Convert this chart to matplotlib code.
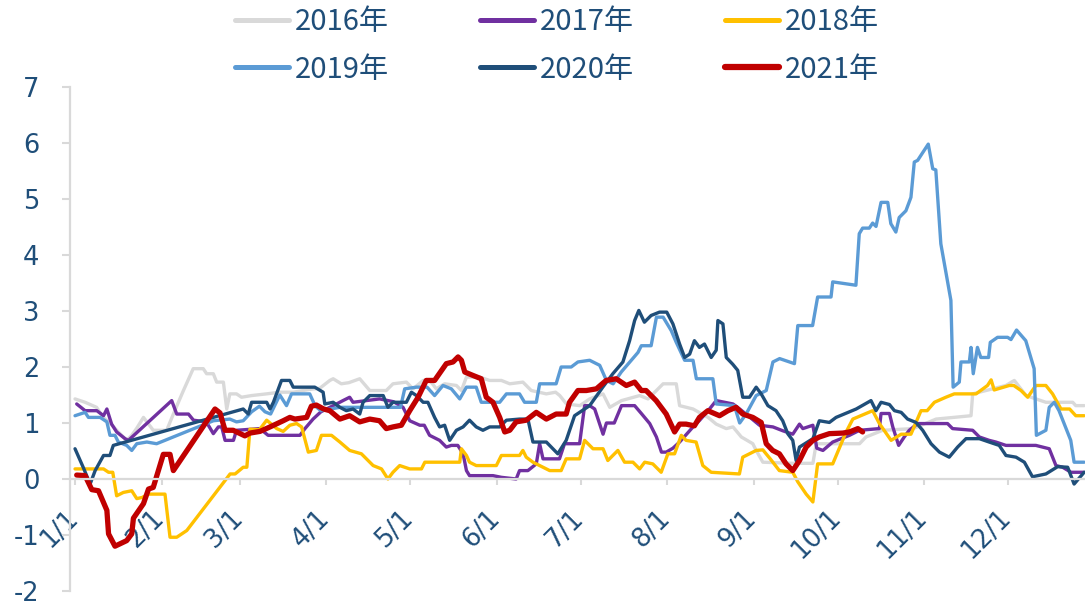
import matplotlib
matplotlib.use('Agg')
import matplotlib.pyplot as plt
import matplotlib.transforms as mtransforms

plt.rcParams['font.family'] = ['DejaVu Sans', 'Noto Sans CJK SC']
plt.rcParams['axes.unicode_minus'] = False

# x 轴为当年第几天 (1/1 = 0)
month_days = [0, 31, 59, 90, 120, 151, 181, 212, 243, 273, 304, 334]
month_labels = ['1/1', '2/1', '3/1', '4/1', '5/1', '6/1', '7/1', '8/1', '9/1', '10/1', '11/1', '12/1']

days_2016 = [0, 3.6, 7.7, 10.1, 12.5, 15.5, 18.5, 20.3, 22, 24.5,
             28, 32.8, 35.2, 38.8, 42.3, 45.9, 47.1, 49.5, 50.7, 53.1,
             54.3, 55.4, 57.8, 59.6, 63.2, 68.5, 73.3, 78.1, 84, 87.6,
             91.2, 92.4, 95.3, 98, 101.9, 105.5, 111.4, 113.8, 118.6, 121,
             124.6, 127, 129.3, 132.3, 136.5, 138.3, 140.1, 144.8, 148.4, 152.6,
             155.6, 160.3, 163.3, 168.7, 172, 173.5, 175.9, 180.7, 184.2, 189,
             191.4, 195.6, 202.1, 205.1, 209.3, 210.5, 215.2, 216.4, 221.2, 226.6,
             229.5, 233.1, 235.5, 238.5, 242.6, 243.8, 246.2, 256.9, 264.1, 265.3,
             280.8, 283.1, 289.1, 300, 308.2, 320.7, 321.3, 333.2, 336.2, 340.4,
             347.5, 357.1, 358.2, 361.2]
vals_2016 = [1.43, 1.37, 1.28, 1.1, 1.0, 0.84, 0.69, 0.78, 0.9, 1.1,
             0.87, 0.87, 1.16, 1.58, 1.97, 1.97, 1.88, 1.88, 1.73, 1.73,
             1.25, 1.52, 1.52, 1.46, 1.49, 1.52, 1.55, 1.55, 1.6, 1.62,
             1.76, 1.79, 1.7, 1.72, 1.79, 1.58, 1.58, 1.7, 1.73, 1.61,
             1.76, 1.76, 1.61, 1.7, 1.67, 1.58, 1.82, 1.82, 1.76, 1.76,
             1.7, 1.73, 1.58, 1.52, 1.55, 1.49, 1.34, 1.31, 1.43, 1.52,
             1.28, 1.4, 1.49, 1.43, 1.64, 1.7, 1.7, 1.31, 1.25, 1.1,
             0.98, 0.9, 0.93, 0.75, 0.63, 0.51, 0.3, 0.28, 0.28, 0.63,
             0.63, 0.75, 0.87, 0.9, 1.07, 1.13, 1.52, 1.67, 1.76, 1.49,
             1.37, 1.37, 1.31, 1.31]

days_2017 = [0.6, 3.6, 7.8, 10.2, 11.4, 13.1, 14.9, 17.9, 19.1, 34.6,
             36.4, 40.6, 42.4, 47, 49.5, 51.3, 52.5, 53.7, 56.7, 57.8,
             66.2, 69.1, 80.5, 82.3, 85.2, 88, 93.6, 95.9, 98.3, 99.5,
             109, 114, 117.4, 119.8, 123.4, 125, 126.9, 130.5, 132.9, 134.7,
             137, 138.9, 140.1, 141.2, 149.6, 152.6, 157.9, 159.1, 162.1, 165.1,
             166.3, 167.5, 173.4, 175.2, 180.6, 182.4, 184.2, 186, 189, 190.2,
             193, 195.6, 200.3, 202.7, 205.7, 208.1, 209.9, 211.6, 214, 216.4,
             221.2, 223.6, 227.1, 229.5, 235.5, 237.9, 242.1, 245, 249.8, 253.4,
             256.9, 259.3, 260.5, 264.1, 265.5, 267.7, 271.2, 277.2, 280.8, 287.9,
             288.5, 291.5, 292.7, 294.8, 296.8, 298.6, 301.6, 312.3, 314.1, 321.3,
             323.7, 327.2, 329.6, 333.2, 343.9, 348.7, 351.1, 353.5, 356.5, 361.2]
vals_2017 = [1.34, 1.22, 1.22, 1.13, 1.25, 0.98, 0.84, 0.72, 0.69, 1.4,
             1.16, 1.16, 1.05, 1.02, 0.81, 0.93, 0.93, 0.69, 0.69, 0.87,
             0.9, 0.78, 0.78, 0.9, 1.07, 1.2, 1.34, 1.4, 1.46, 1.37,
             1.43, 1.38, 1.28, 1.04, 0.96, 0.96, 0.78, 0.69, 0.57, 0.6,
             0.6, 0.45, 0.15, 0.06, 0.06, 0.03, 0.0, 0.15, 0.15, 0.27,
             0.63, 0.36, 0.36, 0.63, 0.63, 1.31, 1.31, 1.25, 0.8, 1.0,
             1.0, 1.31, 1.31, 1.17, 0.99, 0.75, 0.48, 0.48, 0.55, 0.66,
             0.93, 1.05, 1.25, 1.4, 1.34, 1.25, 1.08, 0.96, 0.93, 0.86,
             0.8, 0.98, 0.9, 0.96, 0.55, 0.51, 0.66, 0.78, 0.87, 0.9,
             1.17, 1.17, 0.93, 0.6, 0.75, 0.87, 0.99, 0.99, 0.9, 0.87,
             0.75, 0.69, 0.66, 0.6, 0.6, 0.54, 0.24, 0.21, 0.12, 0.12]

days_2018 = [0, 10.2, 12, 13.5, 14.9, 17.3, 20.3, 22.1, 24, 26.3,
             32.2, 34, 36.4, 40, 55.5, 57.3, 60.2, 61.5, 62.6, 66,
             68.6, 72.2, 74.5, 76.9, 79.3, 81.1, 83.5, 86.4, 88.2, 91.8,
             94.8, 98.3, 102.5, 104.9, 106.7, 109.7, 112, 113.8, 116.2, 119.8,
             124, 125.2, 137.7, 138.3, 140.1, 141.2, 143.6, 150.8, 152.6, 159.1,
             160.3, 161.5, 163.9, 169.9, 174, 175.8, 180.6, 182.4, 185.4, 189,
             190.7, 194.3, 196.7, 199.7, 202.1, 203.9, 206.8, 209.8, 212.2, 214.6,
             217, 218.7, 222.3, 224.7, 227.7, 237.8, 239, 243.8, 246.2, 249,
             252.1, 256.9, 258.7, 261.7, 264.1, 265.8, 271.2, 276, 278.4, 285.5,
             287.9, 292.1, 295.7, 299.2, 302.8, 305, 307.6, 311.7, 314.7, 322.5,
             326.6, 327.9, 329, 334.4, 336, 338.6, 341, 343.9, 347.5, 349.9,
             352.9, 356, 358.2, 361.2]
vals_2018 = [0.18, 0.18, 0.12, 0.12, -0.3, -0.24, -0.21, -0.35, -0.33, -0.27,
             -0.27, -1.04, -1.04, -0.92, 0.09, 0.09, 0.21, 0.21, 0.89, 0.88,
             1.05, 0.9, 0.85, 0.96, 0.99, 0.93, 0.48, 0.51, 0.78, 0.78,
             0.66, 0.51, 0.45, 0.33, 0.24, 0.18, 0.0, 0.12, 0.24, 0.18,
             0.18, 0.3, 0.3, 0.54, 0.42, 0.3, 0.24, 0.24, 0.42, 0.42,
             0.51, 0.39, 0.3, 0.15, 0.15, 0.36, 0.36, 0.69, 0.54, 0.54,
             0.33, 0.51, 0.3, 0.3, 0.18, 0.3, 0.27, 0.12, 0.45, 0.45,
             0.78, 0.69, 0.66, 0.24, 0.12, 0.09, 0.39, 0.51, 0.52, 0.35,
             0.15, 0.12, -0.05, -0.27, -0.41, 0.27, 0.27, 0.84, 1.07, 1.22,
             0.99, 0.69, 0.8, 0.8, 1.22, 1.22, 1.37, 1.46, 1.52, 1.52,
             1.67, 1.77, 1.59, 1.67, 1.67, 1.58, 1.46, 1.67, 1.67, 1.52,
             1.25, 1.25, 1.13, 1.13]

days_2019 = [0, 3.6, 4.8, 9, 11.4, 12.5, 14.3, 15.5, 18.5, 20.3,
             22.1, 25.7, 29.2, 49.5, 55.4, 57.8, 60.2, 63.2, 66, 68,
             70, 73.3, 75.7, 77.5, 84, 86, 88, 94.8, 104.3, 116.5,
             118, 122.2, 126, 128.7, 131.7, 134.7, 137.7, 140.1, 143.6, 145.4,
             152, 154.4, 159.1, 160.9, 165.1, 166.3, 172.2, 174, 177.6, 180,
             184.2, 187.8, 190.2, 192.6, 195.5, 201.5, 202.7, 206.2, 208.1, 210.5,
             213.4, 215.2, 218.2, 221.2, 222.4, 228.3, 229.5, 236, 237.9, 240.2,
             243.8, 247.4, 249.8, 252.2, 257.5, 258.7, 264, 265.8, 270.6, 271.2,
             279.5, 280.7, 281.9, 284.3, 285.5, 286.7, 288.5, 290.9, 292, 293.8,
             295, 297.4, 299.2, 300.4, 301.6, 305.4, 307, 308.1, 309.9, 313.5,
             314.3, 316.5, 317.1, 320.1, 320.7, 321.5, 323, 324.2, 327, 327.6,
             330.2, 333.8, 335, 337, 340.3, 343.3, 344.1, 347.5, 348.7, 350.5,
             352.2, 356.4, 357.6, 361.2]
vals_2019 = [1.13, 1.19, 1.1, 1.1, 1.02, 0.78, 0.78, 0.66, 0.6, 0.51,
             0.63, 0.66, 0.63, 1.04, 1.07, 1.02, 1.04, 1.2, 1.3, 1.2,
             1.16, 1.5, 1.31, 1.52, 1.52, 1.3, 1.22, 1.28, 1.28, 1.28,
             1.61, 1.64, 1.64, 1.49, 1.67, 1.61, 1.43, 1.64, 1.64, 1.37,
             1.37, 1.52, 1.52, 1.37, 1.37, 1.7, 1.7, 2.0, 2.0, 2.09,
             2.12, 2.03, 1.76, 1.7, 1.91, 2.26, 2.38, 2.38, 2.89, 2.89,
             2.65, 2.44, 2.12, 2.12, 1.79, 1.79, 1.34, 1.31, 1.0, 1.16,
             1.49, 1.58, 2.09, 2.15, 2.06, 2.74, 2.74, 3.25, 3.25, 3.52,
             3.46, 4.38, 4.48, 4.48, 4.57, 4.51, 4.94, 4.94, 4.56, 4.41,
             4.67, 4.79, 5.03, 5.66, 5.69, 5.98, 5.54, 5.52, 4.2, 3.19,
             1.64, 1.73, 2.09, 2.09, 2.35, 1.88, 2.35, 2.17, 2.17, 2.44,
             2.53, 2.53, 2.49, 2.66, 2.47, 1.97, 0.78, 0.87, 1.28, 1.37,
             1.22, 0.69, 0.3, 0.3]

days_2020 = [0, 3, 5.4, 7.2, 10.2, 12.5, 13.7, 60.2, 62, 63.2,
             68.6, 69.8, 71, 73.9, 76.9, 78.1, 85.8, 88.8, 89.4, 92.4,
             94.8, 97.1, 99.5, 101.9, 103.1, 105.5, 110.3, 112, 113.8, 118.6,
             120.4, 122.2, 124.6, 126.3, 128.7, 130.5, 132.3, 134.1, 136.5, 138.9,
             141.2, 143.6, 146, 148.4, 152, 154.4, 159.1, 162.1, 163.9, 168.7,
             172.8, 175.8, 178.8, 184.2, 188.9, 192.5, 196.1, 198.5, 200.3, 201.8,
             203.8, 206.2, 209.2, 211.8, 214, 216.4, 218.2, 220, 221.7, 223.5,
             225.3, 227.7, 229.5, 230.1, 231.9, 233.1, 235.4, 237.2, 239, 241.4,
             243.8, 245.6, 248, 250.9, 253.3, 255.1, 256.9, 258.1, 259.3, 264.1,
             266.4, 270, 272.4, 279.6, 284.9, 286.7, 288.5, 291.5, 293.3, 295.7,
             298, 301, 303.4, 306.4, 309.4, 312.9, 315.9, 318.9, 323.7, 327.2,
             330.8, 333.2, 336.8, 339.8, 342.7, 347.5, 351.7, 355.3, 357.6, 361.2]
vals_2020 = [0.54, 0.2, -0.09, 0.15, 0.42, 0.42, 0.6, 1.25, 1.16, 1.37,
             1.37, 1.25, 1.37, 1.76, 1.76, 1.64, 1.64, 1.55, 1.34, 1.37,
             1.28, 1.22, 1.25, 1.16, 1.37, 1.49, 1.49, 1.28, 1.37, 1.37,
             1.55, 1.49, 1.37, 1.37, 1.1, 0.93, 0.96, 0.69, 0.87, 0.93,
             1.05, 0.93, 0.87, 0.93, 0.93, 1.05, 1.07, 1.07, 0.66, 0.66,
             0.45, 0.69, 1.13, 1.31, 1.64, 1.88, 2.09, 2.47, 2.83, 3.01,
             2.8, 2.92, 2.98, 2.98, 2.77, 2.41, 2.17, 2.23, 2.47, 2.35,
             2.41, 2.17, 2.3, 2.83, 2.77, 2.17, 2.05, 1.94, 1.46, 1.46,
             1.64, 1.52, 1.31, 1.22, 1.04, 0.81, 0.69, 0.33, 0.57, 0.72,
             1.04, 1.01, 1.1, 1.25, 1.4, 1.22, 1.37, 1.33, 1.22, 1.19,
             1.07, 1.01, 0.87, 0.63, 0.48, 0.39, 0.57, 0.72, 0.72, 0.66,
             0.6, 0.42, 0.39, 0.3, 0.04, 0.09, 0.22, 0.21, -0.09, 0.12]

days_2021 = [0.6, 3.6, 6, 8.4, 11.4, 12, 14.3, 18.5, 20.3, 20.9,
             24.5, 26.3, 28, 31.6, 34, 35.2, 50.1, 51.9, 53.7, 56.6,
             60.8, 62.6, 66.2, 69.8, 74.5, 76.9, 78.7, 82.9, 84.6, 86.4,
             89, 91.2, 94.8, 98.3, 101.9, 105.5, 109, 111.4, 113.8, 116.8,
             119.8, 122.8, 125.7, 128.7, 132.9, 135.3, 137.1, 138.3, 139.5, 142.4,
             145.4, 147.2, 149.6, 152, 153.8, 155.6, 157.9, 161.5, 165.1, 168.7,
             172.2, 175.8, 177, 180, 183, 186.6, 190.1, 193.7, 197.3, 200.3,
             202.7, 204.4, 208, 211.6, 214.6, 216.4, 218.7, 221.7, 223.5, 226.5,
             230.7, 233.7, 236.6, 239, 242.6, 245.6, 247.4, 249.7, 252.1, 254.5,
             256.9, 259.3, 261.7, 264.1, 266.4, 270, 274.8, 277.2, 280.2, 281.9]
vals_2021 = [0.07, 0.06, -0.19, -0.21, -0.56, -0.98, -1.2, -1.1, -0.98, -0.7,
             -0.44, -0.18, -0.15, 0.44, 0.44, 0.15, 1.25, 1.18, 0.87, 0.87,
             0.77, 0.82, 0.85, 0.93, 1.04, 1.1, 1.07, 1.1, 1.3, 1.32,
             1.25, 1.22, 1.07, 1.13, 1.02, 1.07, 1.04, 0.9, 0.93, 0.96,
             1.22, 1.46, 1.76, 1.76, 2.06, 2.09, 2.18, 2.12, 1.91, 1.85,
             1.79, 1.46, 1.37, 1.1, 0.84, 0.87, 1.02, 1.05, 1.19, 1.07,
             1.16, 1.16, 1.37, 1.58, 1.58, 1.61, 1.76, 1.79, 1.67, 1.73,
             1.58, 1.58, 1.4, 1.16, 0.84, 0.98, 0.98, 0.95, 1.1, 1.22,
             1.13, 1.22, 1.28, 1.16, 1.1, 1.01, 0.63, 0.51, 0.45, 0.27,
             0.15, 0.33, 0.57, 0.69, 0.75, 0.81, 0.82, 0.84, 0.9, 0.84]

text_color = '#1F4E79'
grid_gray = '#D9D9D9'

fig = plt.figure(figsize=(10.85, 6.02), dpi=100)
ax = fig.add_axes([70 / 1085, 11 / 602, 1015 / 1085, 504 / 602])

series = [
    ('2016年', days_2016, vals_2016, '#D9D9D9', 2.4),
    ('2017年', days_2017, vals_2017, '#7030A0', 2.4),
    ('2018年', days_2018, vals_2018, '#FFC000', 2.4),
    ('2019年', days_2019, vals_2019, '#5B9BD5', 2.4),
    ('2020年', days_2020, vals_2020, '#1F4E79', 2.4),
    ('2021年', days_2021, vals_2021, '#C00000', 3.8),
]
lines = {}
for name, xs, ys, color, lw in series:
    ln, = ax.plot(xs, ys, color=color, lw=lw, label=name,
                  solid_joinstyle='round', solid_capstyle='round')
    lines[name] = ln

ax.set_xlim(-1.8, 361.5)
ax.set_ylim(-2, 7)

for side in ['top', 'right']:
    ax.spines[side].set_visible(False)
ax.spines['bottom'].set_position(('data', 0))
ax.spines['bottom'].set_color(grid_gray)
ax.spines['bottom'].set_linewidth(1.6)
ax.spines['left'].set_color(grid_gray)
ax.spines['left'].set_linewidth(1.6)

ax.set_yticks(range(-2, 8))
ax.tick_params(axis='y', length=6, width=1.5, color=grid_gray, pad=16,
               labelsize=18.5, labelcolor=text_color)

ax.set_xticks(month_days)
ax.set_xticklabels(month_labels, rotation=45, ha='right', va='top')
ax.tick_params(axis='x', length=4.5, width=1.5, color=grid_gray, pad=14,
               labelsize=18.5, labelcolor=text_color)
shift = mtransforms.ScaledTranslation(8 / 100, 0, fig.dpi_scale_trans)
for lbl in ax.get_xticklabels():
    lbl.set_transform(lbl.get_transform() + shift)

# 图例按行排列: 2016 2017 2018 / 2019 2020 2021
order = ['2016年', '2019年', '2017年', '2020年', '2018年', '2021年']
leg = fig.legend([lines[k] for k in order], order, ncol=3, loc='upper left',
                 bbox_to_anchor=(235 / 1085, 1 - 7 / 602), frameon=False,
                 borderpad=0, borderaxespad=0, handlelength=1.85, handletextpad=0.2,
                 columnspacing=3.13, labelspacing=0.6, labelcolor=text_color,
                 prop={'family': ['Noto Sans CJK SC'], 'size': 21})
for h in leg.legend_handles:
    h.set_linewidth(4.5 if h.get_color() == '#C00000' else 3.6)

fig.savefig('out.png', dpi=100)
